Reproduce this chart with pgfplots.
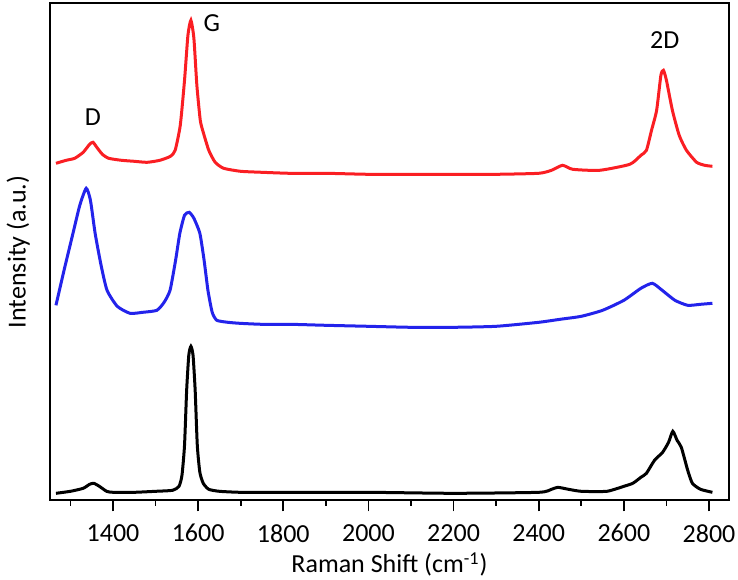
\documentclass[border=0pt]{standalone}
\usepackage{pgfplots}
\pgfplotsset{compat=1.18}
\usepackage{fontspec}
\setmainfont{Carlito}
\definecolor{rred}{RGB}{250,30,35}
\definecolor{bblue}{RGB}{35,35,235}
\begin{document}
\begin{tikzpicture}
\begin{axis}[
  name=ax,
  scale only axis,
  width=339.5pt, height=248.5pt,
  xmin=1252, xmax=2847, ymin=0, ymax=497,
  xtick={1400,1600,...,2800},
  minor xtick={1300,1500,...,2700},
  ytick=\empty,
  tick align=outside,
  xtick pos=bottom,
  major tick length=5.5pt, minor tick length=2.8pt,
  every tick/.style={black, line width=0.9pt},
  axis line style={line width=1pt},
  /pgf/number format/assume math mode=true,
  /pgf/number format/set thousands separator={},
  tick label style={font=\fontsize{13}{15}\selectfont},
  xticklabel style={yshift=-3pt},
  xlabel={Raman Shift (cm\textsuperscript{-1})},
  ylabel={Intensity (a.u.)},
  label style={font=\fontsize{13}{15}\selectfont},
  xlabel style={at={(axis description cs:0.5,-0.1288)}, anchor=center},
  ylabel style={at={(axis description cs:-0.047,0.5)}, anchor=center},
  clip=false,
]
\addplot[rred, line width=1.5pt, smooth, tension=0.35] coordinates {
(1266,337) (1290,340) (1310,342) (1330,348) (1345,356) (1353,358) (1362,353) (1375,346) (1390,342) (1420,340) (1450,339) (1480,338) (1510,340) (1535,344) (1546,350) (1558,375) (1568,420) (1576,465) (1583,480) (1590,462) (1597,415) (1605,380) (1612,368) (1625,350) (1640,338) (1660,332) (1700,329) (1750,328) (1816,327) (1900,327) (2000,326) (2100,326) (2200,326) (2300,326) (2400,327) (2430,330) (2456,335) (2480,331) (2543,330) (2614,336) (2640,345) (2653,350) (2665,370) (2677,390) (2687,425) (2693,430) (2700,420) (2714,390) (2730,365) (2747,350) (2771,338) (2790,335) (2808,334)
};
\addplot[bblue, line width=1.5pt, smooth, tension=0.35] coordinates {
(1266,195) (1285,230) (1306,267) (1322,295) (1337,312) (1347,300) (1358,267) (1372,235) (1386,210) (1410,194) (1440,187) (1470,188) (1503,190) (1520,198) (1534,210) (1547,240) (1557,267) (1568,285) (1579,288) (1590,282) (1604,267) (1614,240) (1623,210) (1633,188) (1644,180) (1670,178) (1698,177) (1750,176) (1816,176) (1900,175) (2000,174) (2100,173) (2200,173) (2300,174) (2400,178) (2450,181) (2500,184) (2550,190) (2600,200) (2640,212) (2667,217) (2690,210) (2720,200) (2750,195) (2780,196) (2808,197)
};
\addplot[black, line width=1.5pt, smooth, tension=0.35] coordinates {
(1266,7) (1300,9) (1330,12) (1345,16) (1355,17) (1368,14) (1385,9) (1400,8) (1450,8) (1500,9) (1540,10) (1555,14) (1562,25) (1568,55) (1573,110) (1578,145) (1583,154) (1588,145) (1593,110) (1598,55) (1604,28) (1612,17) (1625,11) (1650,9) (1700,8) (1800,8) (2000,8) (2200,7) (2400,8) (2430,11) (2445,13) (2470,11) (2500,9) (2560,9) (2600,14) (2621,17) (2640,23) (2653,27) (2672,40) (2691,48) (2705,58) (2715,69) (2725,60) (2735,53) (2750,30) (2761,17) (2780,11) (2808,8)
};
\node[font=\fontsize{13}{15}\selectfont] at (axis cs:1353,383) {D};
\node[font=\fontsize{13}{15}\selectfont] at (axis cs:1632,477) {G};
\node[font=\fontsize{13}{15}\selectfont] at (axis cs:2696,460) {2D};
\end{axis}
\pgfresetboundingbox
\path[use as bounding box] ([shift={(-25pt,-39.65pt)}]ax.south west) rectangle ([shift={(4.5pt,1.65pt)}]ax.north east);
\end{tikzpicture}
\end{document}
